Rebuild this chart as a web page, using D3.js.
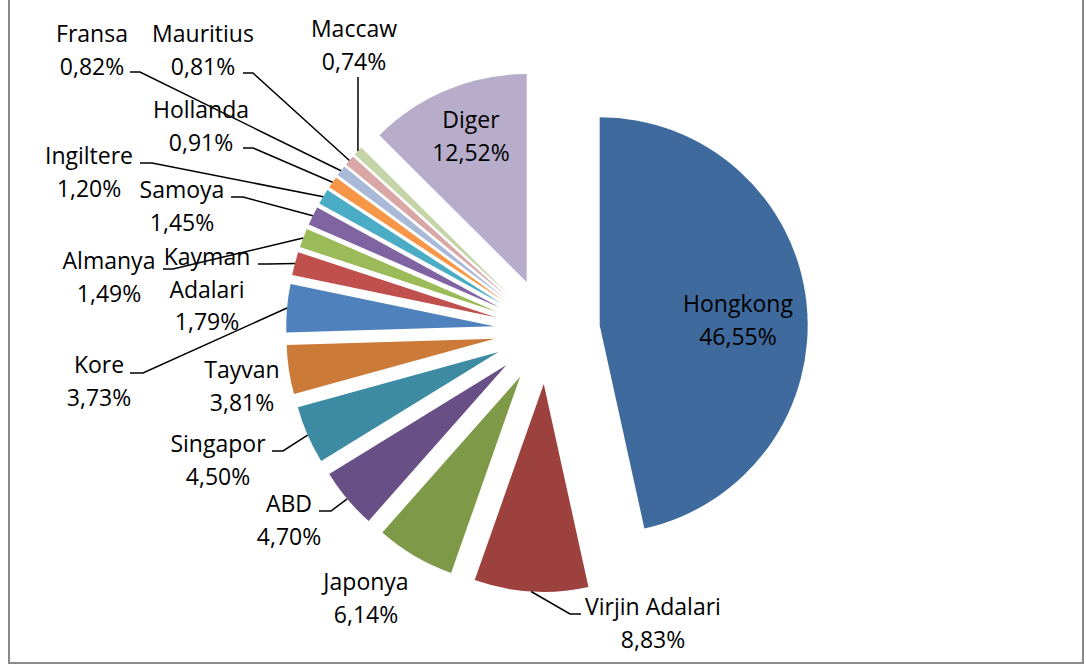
<!DOCTYPE html>
<html lang="tr">
<head>
<meta charset="utf-8">
<title>Pasta grafik</title>
<script src="https://cdn.jsdelivr.net/npm/d3@7"></script>
<style>
  body { margin: 0; background: #fff; }
  svg { display: block; }
  .lbl { font-family: "Open Sans", sans-serif; font-size: 23px; fill: #000; }
</style>
</head>
<body>
<div id="chart"></div>
<script>
    // Ulkeler ve paylari (%)
    var countries = ['Hongkong', 'Virjin Adalari', 'Japonya', 'ABD', 'Singapor', 'Tayvan', 'Kore',
        'Kayman Adalari', 'Almanya', 'Samoya', 'Ingiltere', 'Hollanda', 'Fransa', 'Mauritius', 'Maccaw', 'Diger'];
    var shares = [46.55, 8.83, 6.14, 4.70, 4.50, 3.81, 3.73, 1.79, 1.49, 1.45, 1.20, 0.91, 0.82, 0.81, 0.74, 12.52];
    var colors = ['#3F6A9D', '#9D413E', '#7E9A48', '#684F85', '#3C8BA2', '#CB7A38', '#4F81BD', '#C0504D',
        '#9BBB59', '#8064A2', '#4BACC6', '#F79646', '#A9B9D8', '#D9A7A6', '#C5D5A8', '#B7ACC9'];

    // Etiket yerlesimi (metin merkezi, ilk satirin taban cizgisi, kilavuz cizgisi)
    var labelLayout = {
        'Hongkong':       { x: 738, y: 312 },
        'Virjin Adalari': { x: 653, y: 615, leader: [581, 614, 570] },
        'Japonya':        { x: 366, y: 590 },
        'ABD':            { x: 289, y: 512, leader: [319, 511, 331] },
        'Singapor':       { x: 218, y: 452, leader: [272, 451, 283] },
        'Tayvan':         { x: 242, y: 378 },
        'Kore':           { x: 99,  y: 373, leader: [130, 373, 143] },
        'Kayman Adalari': { x: 207, y: 265, leader: [258, 264, 268], split: true },
        'Almanya':        { x: 109, y: 269, leader: [163, 269, 173] },
        'Samoya':         { x: 182, y: 198, leader: [231, 197, 243] },
        'Ingiltere':      { x: 89,  y: 164, leader: [140, 163, 152] },
        'Hollanda':       { x: 201, y: 118, leader: [243, 148, 253] },
        'Fransa':         { x: 92,  y: 42,  leader: [130, 72, 140] },
        'Mauritius':      { x: 203, y: 42,  leader: [243, 73, 253] },
        'Maccaw':         { x: 354, y: 37,  leader: [358, 77, 358] },
        'Diger':          { x: 471, y: 128 }
    };

    var width = 1086,
        height = 667,
        cx = 547,
        cy = 331,
        radius = 208,
        explode = 53,
        lineGap = 32.5;

    var svg = d3.select('#chart').append('svg')
        .attr('width', width)
        .attr('height', height);

    svg.append('rect')
        .attr('width', width).attr('height', height)
        .attr('fill', '#fff');

    // Cerceve
    svg.append('rect')
        .attr('x', 9).attr('y', -4)
        .attr('width', 1074).attr('height', 667)
        .attr('fill', 'none')
        .attr('stroke', '#898989')
        .attr('stroke-width', 2);

    var data = countries.map(function(c, i) {
        return { name: c, value: shares[i], color: colors[i] };
    });

    var pie = d3.pie()
        .sort(null)
        .value(function(d) { return d.value; });

    var arc = d3.arc()
        .innerRadius(0)
        .outerRadius(radius);

    var arcs = pie(data);

    function dir(a) {
        return [Math.sin(a), -Math.cos(a)];
    }

    var g = svg.append('g')
        .attr('transform', 'translate(' + cx + ',' + cy + ')');

    g.selectAll('path.slice')
        .data(arcs)
        .enter()
        .append('path')
        .attr('class', 'slice')
        .attr('d', arc)
        .attr('fill', function(d) { return d.data.color; })
        .attr('transform', function(d) {
            var v = dir((d.startAngle + d.endAngle) / 2);
            return 'translate(' + (v[0] * explode) + ',' + (v[1] * explode) + ')';
        });

    var fmt = d3.format('.2f');

    // Kilavuz cizgileri
    arcs.forEach(function(d) {
        var lay = labelLayout[d.data.name];
        if (!lay.leader) return;
        var v = dir((d.startAngle + d.endAngle) / 2),
            ex = cx + v[0] * (explode + radius),
            ey = cy + v[1] * (explode + radius),
            p = lay.leader;
        svg.append('polyline')
            .attr('points', [[p[0], p[1]], [p[2], p[1]], [ex, ey]].join(' '))
            .attr('fill', 'none')
            .attr('stroke', '#000')
            .attr('stroke-width', 1.5);
    });

    // Etiketler
    arcs.forEach(function(d) {
        var lay = labelLayout[d.data.name],
            lines = lay.split ? d.data.name.split(' ') : [d.data.name];
        lines.push(fmt(d.data.value).replace('.', ',') + '%');
        var t = svg.append('text')
            .attr('class', 'lbl')
            .attr('text-anchor', 'middle');
        lines.forEach(function(s, i) {
            t.append('tspan')
                .attr('x', lay.x)
                .attr('y', lay.y + i * lineGap)
                .text(s);
        });
    });
</script>
</body>
</html>
